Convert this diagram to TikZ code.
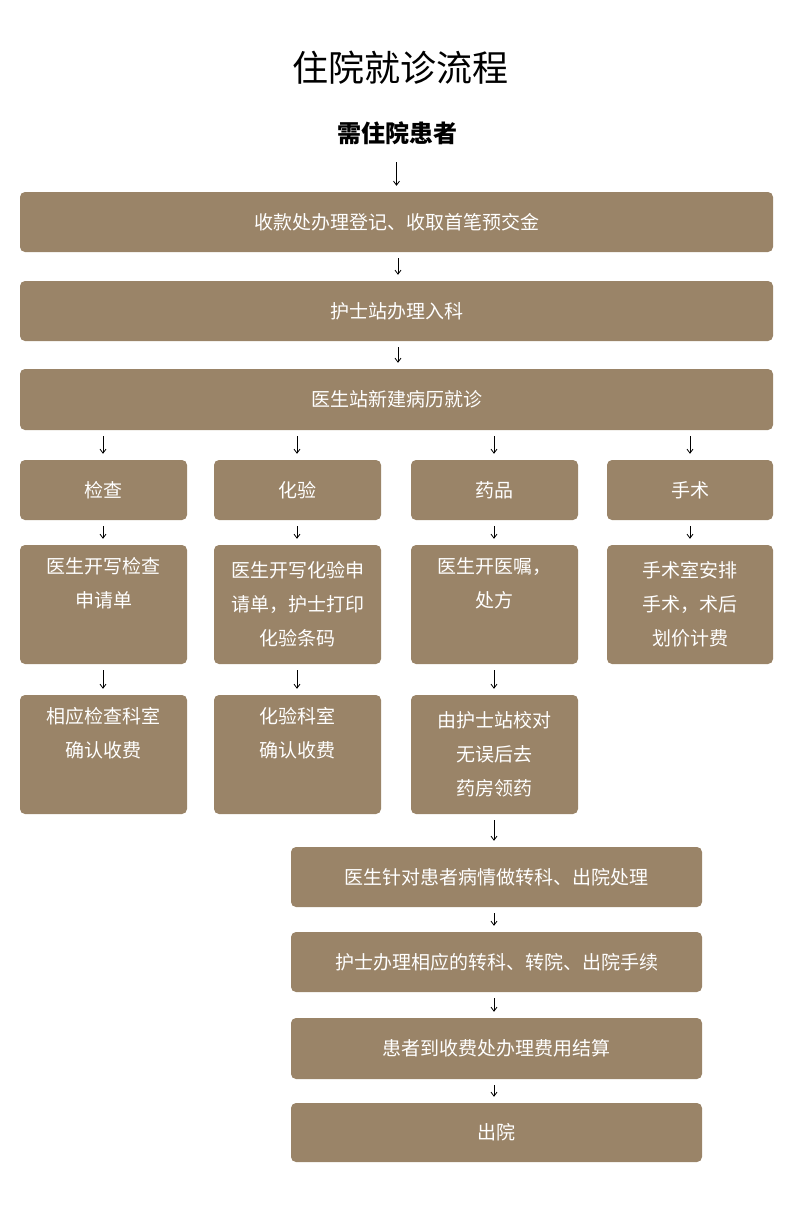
\documentclass[tikz,border=0pt]{standalone}
\usepackage{fontspec}
\setmainfont{Noto Sans CJK SC}
\usetikzlibrary{arrows.meta}
\definecolor{boxc}{HTML}{9A8468}
\begin{document}
\begin{tikzpicture}[x=1pt,y=-1pt,
 box/.style={draw=none,fill=boxc,rounded corners=5pt,text=white,align=center,font=\fontsize{19}{34}\selectfont,inner sep=0pt},
 arr/.style={-{Straight Barb[length=4pt,width=6pt]},line width=0.8pt,shorten <=6pt,shorten >=6pt}]
\useasboundingbox (0,0) rectangle (800,1207);
\node (title) at (400,68) {\fontsize{36}{40}\selectfont 住院就诊流程};
\node[font=\fontsize{24}{28}\selectfont\bfseries] (start) at (397,133) {需住院患者};
\newcommand{\bx}[6]{\node[box,minimum width=#4-#2,minimum height=#5-#3] (#1) at ({(#2+#4)/2},{(#3+#5)/2}) {#6};}
\bx{r1}{20}{192}{773}{252}{收款处办理登记、收取首笔预交金}
\bx{r2}{20}{281}{773}{341}{护士站办理入科}
\bx{r3}{20}{369}{773}{430}{医生站新建病历就诊}
\bx{a1}{20}{460}{187}{520}{检查}
\bx{b1}{214}{460}{381}{520}{化验}
\bx{c1}{411}{460}{578}{520}{药品}
\bx{d1}{607}{460}{773}{520}{手术}
\bx{a2}{20}{545}{187}{664}{医生开写检查\\申请单\\\strut}
\bx{b2}{214}{545}{381}{664}{医生开写化验申\\请单，护士打印\\化验条码}
\bx{c2}{411}{545}{578}{664}{医生开医嘱，\\处方\\\strut}
\bx{d2}{607}{545}{773}{664}{手术室安排\\手术，术后\\划价计费}
\bx{a3}{20}{695}{187}{814}{相应检查科室\\确认收费\\\strut}
\bx{b3}{214}{695}{381}{814}{化验科室\\确认收费\\\strut}
\bx{c3}{411}{695}{578}{814}{由护士站校对\\无误后去\\药房领药}
\bx{e1}{291}{847}{702}{907}{医生针对患者病情做转科、出院处理}
\bx{e2}{291}{932}{702}{992}{护士办理相应的转科、转院、出院手续}
\bx{e3}{291}{1018}{702}{1079}{患者到收费处办理费用结算}
\bx{e4}{291}{1103}{702}{1162}{出院}
\draw[arr,shorten <=14pt] (start.south -| r1.north) -- (r1.north);
\draw[arr] (r1.south -| 398,0) -- (r2.north -| 398,0);
\draw[arr] (r2.south -| 398,0) -- (r3.north -| 398,0);
\foreach \c/\x in {a/103,b/297,c/494,d/690}{
 \draw[arr] (r3.south -| \x,0) -- (\c1.north -| \x,0);
 \draw[arr] (\c1.south -| \x,0) -- (\c2.north -| \x,0);}
\foreach \c/\x in {a/103,b/297,c/494}{
 \draw[arr] (\c2.south -| \x,0) -- (\c3.north -| \x,0);}
\draw[arr] (c3.south -| 494,0) -- (e1.north -| 494,0);
\draw[arr] (e1.south -| 494,0) -- (e2.north -| 494,0);
\draw[arr] (e2.south -| 494,0) -- (e3.north -| 494,0);
\draw[arr] (e3.south -| 494,0) -- (e4.north -| 494,0);
\end{tikzpicture}
\end{document}
